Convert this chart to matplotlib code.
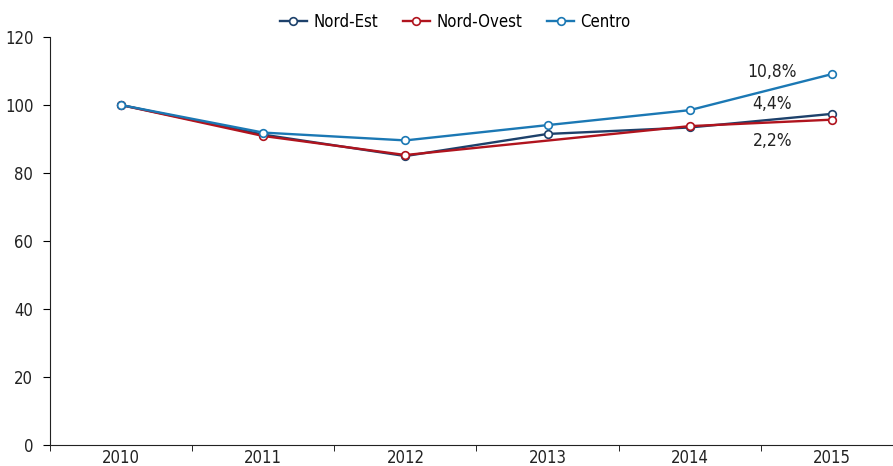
import matplotlib.pyplot as plt
import numpy as np

plt.rcParams['font.family'] = ['DejaVu Sans']
plt.rcParams['font.stretch'] = 'condensed'

anni = ['2010', '2011', '2012', '2013', '2014', '2015']
nord_est = [100, 91.3, 85.0, 91.5, 93.4, 97.4]
nord_ovest = [100, 90.9, 85.3, np.nan, 93.8, 95.7]
centro = [100, 91.9, 89.6, 94.1, 98.5, 109.1]

etichette = ['10,8%', '4,4%', '2,2%']
etichette_y = [109.7, 100.3, 89.4]

fig = plt.figure(figsize=(8.93, 4.66), dpi=100)
ax = fig.add_axes([50 / 893, 0.045, 853 / 893, 0.8755])

x = np.arange(len(anni))
serie = [('Nord-Est', nord_est, '#1d416b'),
         ('Nord-Ovest', nord_ovest, '#b0141e'),
         ('Centro', centro, '#1b78b4')]
for nome, vals, col in serie:
    v = np.array(vals, dtype=float)
    ok = ~np.isnan(v)
    ax.plot(x[ok], v[ok], color=col, lw=1.7, marker='o', ms=5.5,
            mfc='white', mec=col, mew=1.2, label=nome)

for t, yy in zip(etichette, etichette_y):
    ax.text(4.58, yy, t, ha='center', va='center', fontsize=12.5, color='#222222')

ax.set_xlim(-0.5, 5.5)
ax.set_ylim(0, 120)
ax.set_yticks(range(0, 121, 20))
ax.set_xticks(x)
ax.set_xticklabels(anni)
ax.set_xticks(np.arange(-0.5, 5.6, 1), minor=True)
ax.tick_params(axis='x', which='major', length=0, pad=3, labelsize=12, labelcolor='#222222')
ax.tick_params(axis='x', which='minor', length=4, direction='out')
ax.tick_params(axis='y', length=5, direction='out', labelsize=12, pad=7, labelcolor='#222222')
for s in ['top', 'right']:
    ax.spines[s].set_visible(False)
ax.spines['left'].set_color('#222222')
ax.spines['bottom'].set_color('#222222')

fig.legend(loc='upper center', bbox_to_anchor=(0.51, 1.005), ncol=3, frameon=False,
           fontsize=12, handlelength=1.6, columnspacing=1.5, handletextpad=0.4)

fig.savefig('out.png', dpi=100)
